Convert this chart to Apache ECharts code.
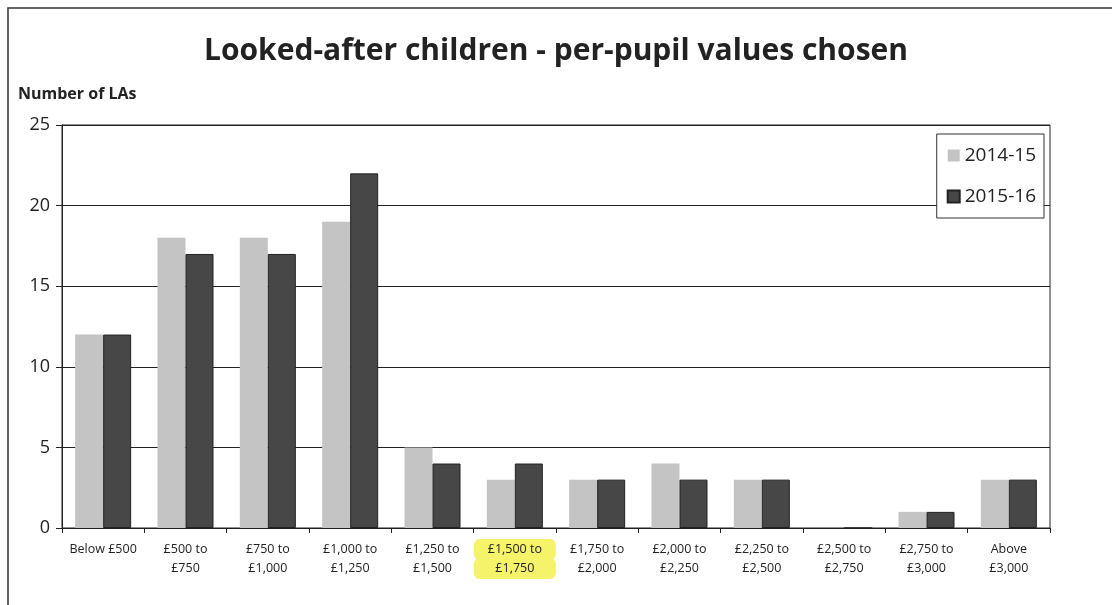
<!DOCTYPE html>
<html>
<head>
<meta charset="utf-8">
<script src="https://cdn.jsdelivr.net/npm/echarts@6/dist/echarts.min.js"></script>
<style>
  html, body { margin: 0; padding: 0; background: #fff; }
  #chart { width: 1112px; height: 605px; }
</style>
</head>
<body>
<div id="chart"></div>
<script>
// bands of per-pupil value
var categories = [
  'Below £500', '£500 to\n£750', '£750 to\n£1,000', '£1,000 to\n£1,250',
  '£1,250 to\n£1,500', '£1,500 to\n£1,750', '£1,750 to\n£2,000', '£2,000 to\n£2,250',
  '£2,250 to\n£2,500', '£2,500 to\n£2,750', '£2,750 to\n£3,000', 'Above\n£3,000'
];
var values1415 = [12, 18, 18, 19, 5, 3, 3, 4, 3, 0, 1, 3];
var values1516 = [12, 17, 17, 22, 4, 4, 3, 3, 3, 0, 1, 3];
var highlightIndex = 5;

var font = '"Open Sans", "Noto Sans", sans-serif';

var chart = echarts.init(document.getElementById('chart'));
chart.setOption({
  animation: false,
  backgroundColor: '#fff',
  textStyle: { fontFamily: font, color: '#111' },
  title: {
    text: 'Looked-after children - per-pupil values chosen',
    left: 'center',
    top: 31,
    textStyle: { fontSize: 30, fontWeight: 'bold', color: '#222', fontFamily: font }
  },
  graphic: [
    { type: 'rect', shape: { x: 8, y: 8, width: 1120, height: 620 }, style: { fill: 'none', stroke: '#333', lineWidth: 1.5 }, silent: true },
    { type: 'text', left: 18, top: 86, style: { text: 'Number of LAs', font: 'bold 16px ' + font, fill: '#222' } }
  ],
  legend: {
    orient: 'vertical',
    right: 68,
    top: 134,
    icon: 'rect',
    itemWidth: 12,
    itemHeight: 12,
    itemGap: 22,
    padding: [12, 8, 12, 10],
    borderColor: '#333',
    borderWidth: 1,
    backgroundColor: '#fff',
    textStyle: { fontSize: 19, color: '#222', fontFamily: font },
    data: ['2014-15', '2015-16']
  },
  grid: {
    left: 62, right: 62, top: 125, bottom: 77,
    show: true, borderColor: '#222', borderWidth: 1
  },
  xAxis: {
    type: 'category',
    data: categories,
    axisLine: { lineStyle: { color: '#222' } },
    axisTick: { show: true, length: 5, lineStyle: { color: '#222' } },
    axisLabel: {
      interval: 0, fontSize: 12.5, color: '#222', lineHeight: 19, margin: 12,
      formatter: function (v, i) {
        return i === highlightIndex ? '{hl|' + v + '}' : v;
      },
      rich: {
        hl: {
          fontSize: 12.5, lineHeight: 19, color: '#222', width: 70, align: 'center',
          backgroundColor: '#f4f36a', padding: [4, 6, 4, 6], borderRadius: 6
        }
      }
    }
  },
  yAxis: {
    type: 'value',
    min: 0, max: 25, interval: 5,
    axisLine: { show: true, lineStyle: { color: '#222' } },
    axisTick: { show: true, length: 6, lineStyle: { color: '#222' } },
    axisLabel: { fontSize: 18, color: '#222', margin: 12 },
    splitLine: { lineStyle: { color: '#222', width: 1 } }
  },
  series: [
    {
      name: '2014-15', type: 'bar', data: values1415,
      barWidth: 28, barGap: '0%',
      itemStyle: { color: '#c4c4c4' }
    },
    {
      name: '2015-16', type: 'bar', data: values1516,
      barWidth: 28,
      itemStyle: { color: '#474747', borderColor: '#222', borderWidth: 1 }
    }
  ]
});
</script>
</body>
</html>
